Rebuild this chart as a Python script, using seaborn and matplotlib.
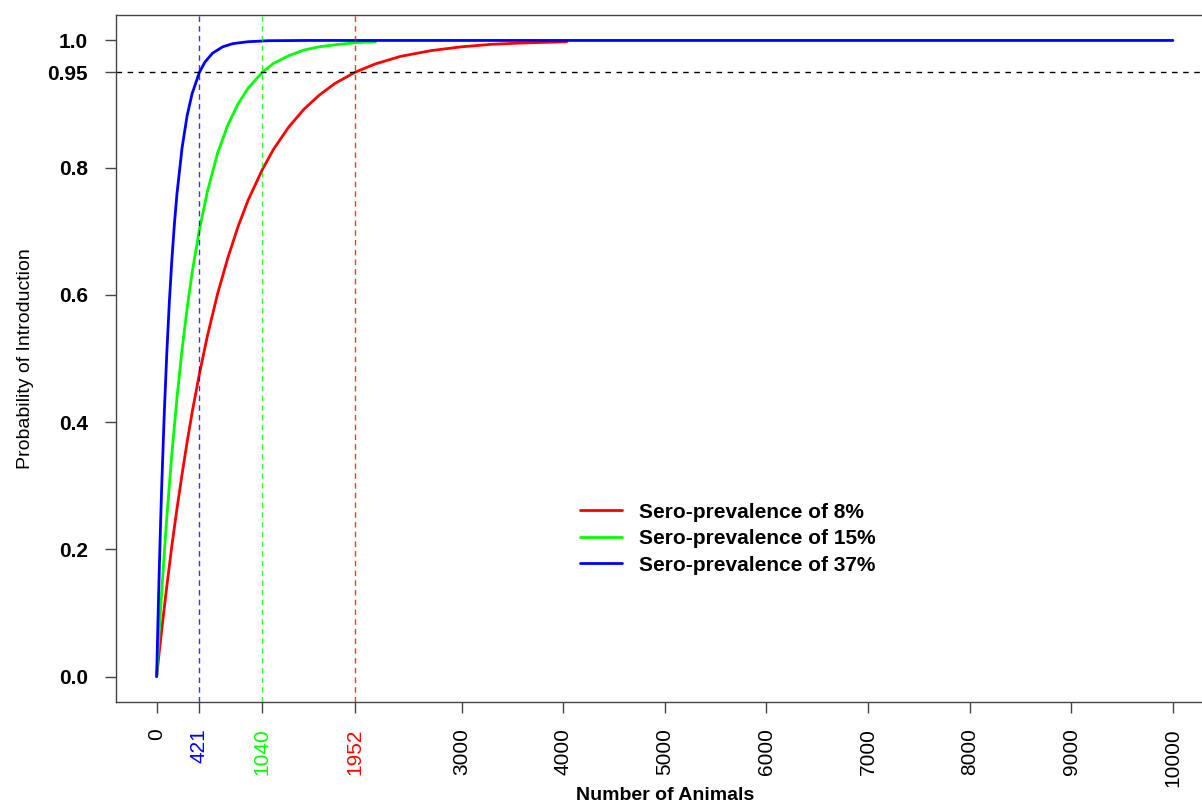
import numpy as np
import pandas as pd
import seaborn as sns
import matplotlib
matplotlib.use("Agg")
from matplotlib import pyplot as plt

# values
x_8 = [0, 25, 50, 100, 150, 200, 250, 300, 350, 421, 500, 600, 700, 800, 900, 1040,
       1150, 1300, 1450, 1600, 1750, 1952, 2150, 2400, 2700, 3000, 3300, 3600, 4035]
p_8 = [0.0, 0.038, 0.074, 0.142, 0.206, 0.264, 0.318, 0.369, 0.416, 0.476, 0.536, 0.602,
       0.658, 0.707, 0.749, 0.797, 0.829, 0.864, 0.892, 0.914, 0.932, 0.950, 0.963, 0.975,
       0.984, 0.990, 0.994, 0.996, 0.998]

x_15 = [0, 25, 50, 75, 100, 150, 200, 250, 300, 350, 421, 500, 600, 700, 800, 900, 1040,
        1150, 1300, 1450, 1600, 1800, 2000, 2155]
p_15 = [0.0, 0.070, 0.134, 0.194, 0.250, 0.351, 0.438, 0.514, 0.579, 0.636, 0.703, 0.763,
        0.823, 0.867, 0.900, 0.925, 0.950, 0.964, 0.976, 0.985, 0.990, 0.994, 0.997, 0.998]

x_37 = [0, 10, 20, 30, 40, 50, 75, 100, 125, 150, 175, 200, 250, 300, 350, 421, 475, 550,
        650, 750, 900, 1100, 1500, 10000]
p_37 = [0.0, 0.069, 0.133, 0.192, 0.248, 0.300, 0.414, 0.509, 0.589, 0.656, 0.712, 0.759,
        0.831, 0.882, 0.917, 0.950, 0.966, 0.980, 0.990, 0.995, 0.998, 0.9996, 1.0, 1.0]

labels = ["Sero-prevalence of 8%", "Sero-prevalence of 15%", "Sero-prevalence of 37%"]
colors = ["#ff0000", "#00ff00", "#0000ff"]
cutoffs = [1952, 1040, 421]
threshold = 0.95

df = pd.concat([
    pd.DataFrame({"n": x_8, "prob": p_8, "series": labels[0]}),
    pd.DataFrame({"n": x_15, "prob": p_15, "series": labels[1]}),
    pd.DataFrame({"n": x_37, "prob": p_37, "series": labels[2]}),
])

sns.set_style("white")
plt.rcParams['font.family'] = ['Liberation Sans', 'DejaVu Sans']
for k in ['text.color', 'axes.labelcolor', 'xtick.color', 'ytick.color']:
    plt.rcParams[k] = 'black'

fig = plt.figure(figsize=(12.02, 8.05), dpi=100)
ax = fig.add_axes([116/1202, 1-702/805, (1213.6-116)/1202, (702-15)/805])

sns.lineplot(data=df, x="n", y="prob", hue="series", palette=colors,
             hue_order=labels, linewidth=2, ax=ax, estimator=None, sort=False)

ax.axhline(threshold, color="black", lw=1, ls=(0, (4, 4)))
for c, col in zip(cutoffs, colors):
    ax.axvline(c, color=col, lw=1, alpha=0.8, ls=(0, (4, 3)))

ax.set_xlim(-400, 10400)
ax.set_ylim(-0.04, 1.04)

# x ticks, with the three cut-offs in colour
xt = [0, 421, 1040, 1952, 3000, 4000, 5000, 6000, 7000, 8000, 9000, 10000]
ax.set_xticks(xt)
ax.set_xticklabels([str(v) for v in xt], rotation=90, fontsize=15)
tick_col = {421: colors[2], 1040: colors[1], 1952: colors[0]}
for v, lab, tk in zip(xt, ax.get_xticklabels(), ax.xaxis.get_major_ticks()):
    if v in tick_col:
        lab.set_color(tick_col[v])
        tk.tick1line.set_color(tick_col[v])

yt = [0, 0.2, 0.4, 0.6, 0.8, 0.95, 1.0]
ax.set_yticks(yt)
ax.set_yticklabels(["0.0", "0.2", "0.4", "0.6", "0.8", "0.95", "1.0"],
                   fontsize=15, fontweight="bold")
ax.tick_params(axis="both", which="major", direction="out", length=8,
               width=1, color="#444444", pad=12, left=True, bottom=True)
ax.tick_params(axis="x", pad=11)

for s in ax.spines.values():
    s.set_color("#444444")
    s.set_linewidth(1)

ax.set_xlabel("Number of Animals", fontsize=14, fontweight="bold")
ax.set_ylabel("Probability of Introduction", fontsize=14)
ax.xaxis.set_label_coords(0.5, -0.124)
ax.yaxis.set_label_coords(-0.075, 0.5)

ax.legend(loc="upper left", bbox_to_anchor=(0.423, 0.29), frameon=False,
          prop={"size": 15, "weight": "bold"}, handlelength=2.0,
          handletextpad=0.8, labelspacing=0.36, borderpad=0, borderaxespad=0)

plt.savefig("out.png", dpi=100)
